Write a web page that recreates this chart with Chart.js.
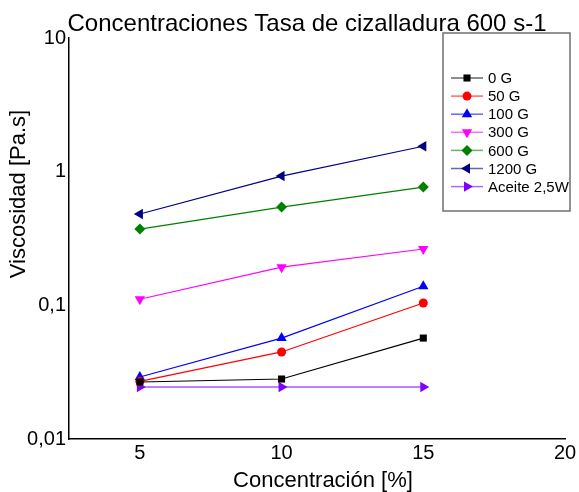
<!DOCTYPE html>
<html>
<head>
<meta charset="utf-8">
<script src="https://cdn.jsdelivr.net/npm/chart.js@4.4.1/dist/chart.umd.min.js"></script>
<style>
  html, body { margin: 0; padding: 0; background: #fff; }
  #wrap { width: 579px; height: 492px; }
</style>
</head>
<body>
<div id="wrap"><canvas id="chart"></canvas></div>
<script>
/* ---------- data ---------- */
const concentrations = [5, 10, 15];
const seriesNames = ['0 G', '50 G', '100 G', '300 G', '600 G', '1200 G', 'Aceite 2,5W'];

const visc0G    = [0.0267, 0.0281, 0.0569];
const visc50G   = [0.0270, 0.0448, 0.104];
const visc100G  = [0.0291, 0.0569, 0.139];
const visc300G  = [0.111, 0.193, 0.264];
const visc600G  = [0.372, 0.543, 0.767];
const visc1200G = [0.482, 0.927, 1.55];
const viscOil   = [0.0245, 0.0245, 0.0245];

const xTicks = [5, 10, 15, 20];
const yTicks = [0.01, 0.1, 1, 10];

const chartTitle = 'Concentraciones Tasa de cizalladura 600 s-1';
const xTitle     = 'Concentración [%]';
const yTitle     = 'Viscosidad [Pa.s]';

/* ---------- styling ---------- */
const FONT = "'Liberation Sans', Arial, sans-serif";

const STYLES = [
  { color: '#000000', style: 'rect',     rotation: 0,   radius: 5   },
  { color: '#FF0000', style: 'circle',   rotation: 0,   radius: 4.5 },
  { color: '#0000FF', style: 'triangle', rotation: 0,   radius: 6   },
  { color: '#FF00FF', style: 'triangle', rotation: 180, radius: 6   },
  { color: '#008000', style: 'rectRot',  rotation: 0,   radius: 5.5 },
  { color: '#000080', style: 'triangle', rotation: -90, radius: 6   },
  { color: '#8000FF', style: 'triangle', rotation: 90,  radius: 6   },
];

const allSeries = [visc0G, visc50G, visc100G, visc300G, visc600G, visc1200G, viscOil];

const datasets = allSeries.map((vals, i) => ({
  label:            seriesNames[i],
  data:             vals.map((v, j) => ({ x: concentrations[j], y: v })),
  borderColor:      STYLES[i].color,
  backgroundColor:  STYLES[i].color,
  borderWidth:      1.2,
  pointStyle:       STYLES[i].style,
  pointRotation:    STYLES[i].rotation,
  pointRadius:      STYLES[i].radius,
  pointBorderWidth: 0,
  showLine:         true,
  tension:          0,
}));

/* ---------- titles (placed like the Origin layout, not centred) ---------- */
const titles = {
  id: 'titles',
  afterDraw(chart) {
    const ctx = chart.ctx;
    ctx.save();
    ctx.fillStyle = '#000';
    ctx.textAlign = 'center';
    ctx.textBaseline = 'alphabetic';

    ctx.font = `24px ${FONT}`;
    ctx.fillText(chartTitle, 307, 31);

    ctx.font = `22px ${FONT}`;
    ctx.fillText(xTitle, 323, 487);

    ctx.translate(25, 194);
    ctx.rotate(-Math.PI / 2);
    ctx.fillText(yTitle, 0, 0);
    ctx.restore();
  },
};

/* ---------- legend box inside plot ---------- */
const boxLegend = {
  id: 'boxLegend',
  afterDraw(chart) {
    const ctx = chart.ctx;
    ctx.save();
    ctx.strokeStyle = '#707070';
    ctx.lineWidth = 1.5;
    ctx.strokeRect(443, 33, 127, 178);
    ctx.font = `15px ${FONT}`;
    ctx.textBaseline = 'middle';
    chart.data.datasets.forEach((ds, i) => {
      const y = 78 + i * 18.1;
      ctx.globalAlpha = 0.6;
      ctx.strokeStyle = ds.borderColor;
      ctx.lineWidth = 1.5;
      ctx.beginPath();
      ctx.moveTo(451, y);
      ctx.lineTo(483, y);
      ctx.stroke();
      ctx.globalAlpha = 1;
      ctx.fillStyle = ds.backgroundColor;
      Chart.helpers.drawPoint(ctx, {
        pointStyle: ds.pointStyle,
        rotation:   ds.pointRotation,
        radius:     ds.pointRadius,
        borderWidth: 0,
      }, 467, y);
      ctx.fillStyle = '#000';
      ctx.fillText(ds.label, 488, y + 1);
    });
    ctx.restore();
  },
};

new Chart(document.getElementById('chart'), {
  type: 'scatter',
  data: { datasets },
  plugins: [titles, boxLegend],
  options: {
    responsive:          true,
    maintainAspectRatio: false,
    animation:           false,
    layout: { padding: { top: 38, right: 14, left: 0, bottom: 0 } },
    plugins: {
      legend:  { display: false },
      tooltip: { enabled: false },
      title:   { display: false },
    },
    scales: {
      x: {
        type: 'linear',
        min:  2.5,
        max:  20,
        afterBuildTicks: s => { s.ticks = xTicks.map(v => ({ value: v })); },
        afterFit: s => { s.height = 53; },
        grid:   { display: false, drawTicks: false },
        border: { display: true, color: '#000', width: 1.5 },
        ticks:  { color: '#000', padding: 2, font: { family: FONT, size: 20 } },
      },
      y: {
        type: 'logarithmic',
        min:  0.01,
        max:  10,
        afterBuildTicks: s => { s.ticks = yTicks.map(v => ({ value: v })); },
        afterFit: s => { s.width = 69; },
        grid:   { display: false, drawTicks: false },
        border: { display: true, color: '#000', width: 1.5 },
        ticks:  {
          color: '#000',
          padding: 3,
          font: { family: FONT, size: 20 },
          callback: v => String(v).replace('.', ','),
        },
      },
    },
  },
});
</script>
</body>
</html>
